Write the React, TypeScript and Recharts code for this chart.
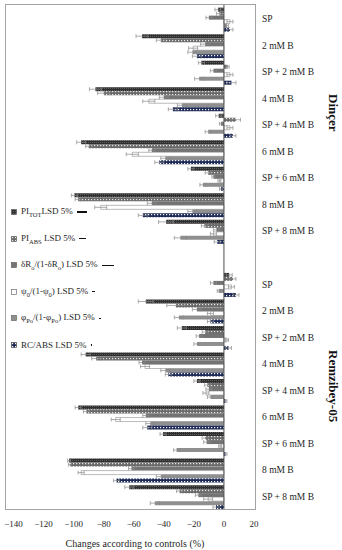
import React from "react";
import { BarChart, Bar, XAxis, YAxis, ReferenceLine, ErrorBar } from "recharts";

// categories top to bottom; the empty one separates the two cultivars
const categories = [
    "SP", "2 mM B", "SP + 2 mM B", "4 mM B", "SP + 4 mM B", "6 mM B", "SP + 6 mM B", "8 mM B", "SP + 8 mM B",
    "",
    "SP", "2 mM B", "SP + 2 mM B", "4 mM B", "SP + 4 mM B", "6 mM B", "SP + 6 mM B", "8 mM B", "SP + 8 mM B",
];

const piTot = [-4, -54.5, -15, -85.5, -3.5, -95, -22, -99.5, -38.5, null, 3.5, -52, -28, -92, -18, -97, -40.5, -103, -63];
const piAbs = [-3, -42, 2.5, -80, 8, -90, -10.5, -97, -13, null, 6, -32, -12.5, -85, -11, -91.5, -12.5, -102.5, -29.5];
const dRo = [-10, -12.5, -7, -40, -2, -48, -7, -48, -5, null, -7, -18, -16.5, -54.5, -10, -52, -11.5, -61.5, -17];
const psiO = [4, -20.5, 4, -50, 4, -61, -3, -82, -7, null, 5, -9, 2, -52.5, -12, -72, -2.5, -95, -10.5];
const phiPo = [2, -21, -16.5, -28, -10.5, -39, -14, -21, -29, null, -3.5, -30, -18, -39, -9, -49, -31.5, -42, -46];
const rcAbs = [4, -18, 5, -34, 6, -43, -2, -54, -4.5, null, 8, -9, 3, -37, 1, -51, 1, -71.5, -5.3];

// error bar half-widths (%)
const piTotErr = [2, 4, 2, 4, 2, 3, 2, 2, 5, null, 2, 5, 3, 3, 2, 2, 2, 1, 3];
const piAbsErr = [2, 3, 1, 4, 3, 2, 2, 2, 2, null, 2, 6, 2, 3, 2, 2, 2, 1, 2];
const dRoErr = [2, 3, 2, 3, 1, 2, 1, 3, 2, null, 2, 3, 2, 2, 2, 2, 2, 2, 2];
const psiOErr = [2, 3, 2, 4, 2, 4, 1, 4, 2, null, 2, 2, 1, 3, 2, 3, 1, 2, 3];
const phiPoErr = [1, 3, 3, 3, 2, 3, 2, 3, 4, null, 1, 3, 2, 3, 2, 3, 2, 3, 3];
const rcAbsErr = [2, 3, 3, 3, 2, 3, 1, 3, 2, null, 2, 2, 2, 2, 1, 3, 1, 2, 2];

const xTicks = [-140, -120, -100, -80, -60, -40, -20, 0, 20];

// LSD 5% values shown in the legend
const lsdValues = [6.5, 4.5, 8.5, 2, 1.5, 1];

const series = [
    { key: "piTot", err: "piTotErr", fill: "url(#patTot)", stroke: "none", swatch: "url(#patTot)" },
    { key: "piAbs", err: "piAbsErr", fill: "url(#patAbs)", stroke: "none", swatch: "url(#patAbs)" },
    { key: "dRo", err: "dRoErr", fill: "#737373", stroke: "none", swatch: "#737373" },
    { key: "psiO", err: "psiOErr", fill: "#ffffff", stroke: "#8c8c8c", swatch: "#ffffff" },
    { key: "phiPo", err: "phiPoErr", fill: "#8f8f8f", stroke: "none", swatch: "#8f8f8f" },
    { key: "rcAbs", err: "rcAbsErr", fill: "url(#patRc)", stroke: "none", swatch: "url(#patRc)" },
];

const data = categories.map((c, i) => ({
    key: String(i),
    piTot: piTot[i], piAbs: piAbs[i], dRo: dRo[i], psiO: psiO[i], phiPo: phiPo[i], rcAbs: rcAbs[i],
    piTotErr: piTotErr[i], piAbsErr: piAbsErr[i], dRoErr: dRoErr[i],
    psiOErr: psiOErr[i], phiPoErr: phiPoErr[i], rcAbsErr: rcAbsErr[i],
}));

const FONT = "Liberation Serif, Times New Roman, serif";
const TEXT = "#262626";
const PX_PER_UNIT = 248 / 165;

function LegendLabel({ index }: { index: number }) {
    const sub = { fontSize: 6.5, verticalAlign: "sub" as const };
    switch (index) {
        case 0:
            return <span>PI<span style={sub}>TOT</span>LSD 5%</span>;
        case 1:
            return <span>PI<span style={sub}>ABS</span> LSD 5%</span>;
        case 2:
            return <span>δR<span style={sub}>o</span>/(1-δR<span style={sub}>o</span>) LSD 5%</span>;
        case 3:
            return <span>ψ<span style={sub}>0</span>/(1-ψ<span style={sub}>0</span>) LSD 5%</span>;
        case 4:
            return <span>φ<span style={sub}>Po</span>/(1-φ<span style={sub}>Po</span>) LSD 5%</span>;
        default:
            return <span>RC/ABS LSD 5%</span>;
    }
}

function CategoryTick(props: any) {
    const { x, y, payload } = props;
    return (
        <text x={x} y={y} dy={4} textAnchor="start" fontSize={9.5} fontFamily={FONT} fill={TEXT}>
            {categories[Number(payload.value)]}
        </text>
    );
}

function ValueTick(props: any) {
    const { x, y, payload } = props;
    return (
        <text x={x} y={y} dy={10} textAnchor="middle" fontSize={9} fontFamily={FONT} fill={TEXT}>
            {String(payload.value).replace("-", "\u2212")}
        </text>
    );
}

export default function App() {
    return (
        <div style={{ position: "absolute", left: 0, top: 0, width: 342, height: 550, fontFamily: FONT, background: "#fff" }}>
            <svg width={0} height={0} style={{ position: "absolute" }}>
                <defs>
                    <pattern id="patTot" width={2} height={2} patternUnits="userSpaceOnUse">
                        <rect width={2} height={2} fill="#2f2f2f" />
                        <rect width={1} height={1} fill="#5c5c5c" />
                    </pattern>
                    <pattern id="patAbs" width={3} height={3} patternUnits="userSpaceOnUse">
                        <rect width={3} height={3} fill="#6a6a6a" />
                        <rect x={1} y={1} width={1.2} height={1.2} fill="#e6e6e6" />
                    </pattern>
                    <pattern id="patRc" width={3} height={3} patternUnits="userSpaceOnUse">
                        <rect width={3} height={3} fill="#1e2b58" />
                        <rect x={1} y={1} width={1.2} height={1.2} fill="#ffffff" />
                    </pattern>
                </defs>
            </svg>

            <BarChart
                width={342}
                height={550}
                data={data}
                layout="vertical"
                margin={{ top: 5, right: 0, bottom: 0, left: 6 }}
                barCategoryGap="10%"
                barGap={0}
            >
                <XAxis
                    type="number"
                    domain={[-145, 20]}
                    ticks={xTicks}
                    interval={0}
                    allowDataOverflow
                    axisLine={false}
                    tickLine={false}
                    height={41}
                    tick={<ValueTick />}
                    label={{
                        value: "Changes according to controls (%)",
                        position: "insideBottom",
                        offset: 3,
                        dx: 5,
                        fill: TEXT,
                        fontSize: 10,
                        fontFamily: FONT,
                    }}
                />
                <YAxis
                    type="category"
                    dataKey="key"
                    orientation="right"
                    width={88}
                    interval={0}
                    axisLine={false}
                    tickLine={false}
                    tick={<CategoryTick />}
                />
                {series.map((s) => (
                    <Bar
                        key={s.key}
                        dataKey={s.key}
                        fill={s.fill}
                        stroke={s.stroke}
                        strokeWidth={0.6}
                        isAnimationActive={false}
                    >
                        <ErrorBar dataKey={s.err} direction="x" width={2} stroke="#8a8a8a" strokeWidth={0.7} />
                    </Bar>
                ))}
                <ReferenceLine x={0} stroke="#4d4d4d" strokeWidth={1} />
            </BarChart>

            {/* plot frame */}
            <div
                style={{
                    position: "absolute", left: 5, top: 4, width: 251, height: 506,
                    border: "1px solid #a3a3a3", boxSizing: "border-box", pointerEvents: "none",
                }}
            />

            {/* legend with LSD bars */}
            {series.map((s, i) => (
                <div
                    key={s.key}
                    style={{
                        position: "absolute", left: 11, top: 206 + i * 26.6, height: 12,
                        display: "flex", alignItems: "center", fontSize: 9, color: TEXT, whiteSpace: "nowrap",
                    }}
                >
                    <svg width={6} height={6} style={{ marginRight: 4 }}>
                        <rect x={0.5} y={0.5} width={5} height={5} fill={s.swatch} stroke="#555" strokeWidth={0.6} />
                    </svg>
                    <LegendLabel index={i} />
                    <span
                        style={{
                            display: "inline-block", marginLeft: 4, height: 1.3,
                            width: Math.max(1.5, lsdValues[i] * PX_PER_UNIT), background: "#111",
                        }}
                    />
                </div>
            ))}

            {/* cultivar labels */}
            <div style={{ position: "absolute", left: 325, top: 94, writingMode: "vertical-rl", fontWeight: "bold", fontSize: 13, color: "#111" }}>
                Dinçer
            </div>
            <div style={{ position: "absolute", left: 325, top: 350, writingMode: "vertical-rl", fontWeight: "bold", fontSize: 13, color: "#111" }}>
                Remzibey-05
            </div>
        </div>
    );
}
